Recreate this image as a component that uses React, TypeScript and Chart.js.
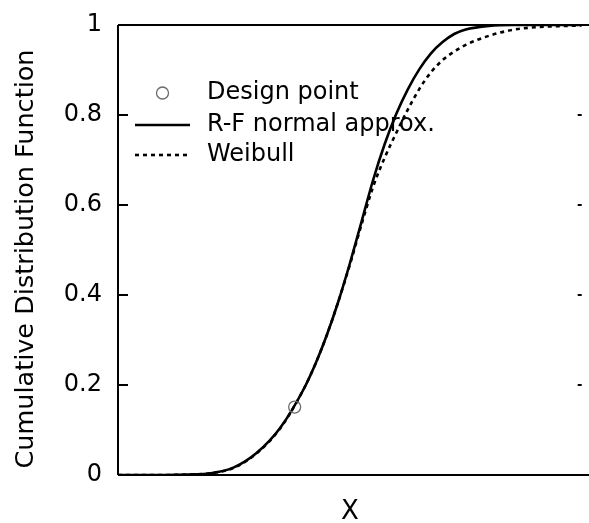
import React, { useEffect, useRef } from "react";
import { Chart, registerables } from "chart.js";

Chart.register(...registerables);

// ---- data ----
const xValues = [0, 1, 1.5, 2, 2.5, 3, 3.5, 4, 4.25, 4.5, 4.75, 5, 5.25, 5.5, 5.75, 6, 6.25, 6.5, 6.75, 7, 7.25, 7.5, 8, 8.5, 9, 10];
const normalCdf = [0, 0, 0.001, 0.004, 0.017, 0.05, 0.105, 0.19, 0.245, 0.31, 0.385, 0.47, 0.562, 0.655, 0.735, 0.802, 0.857, 0.902, 0.937, 0.962, 0.98, 0.99, 0.998, 1, 1, 1];
const weibullCdf = [0, 0, 0.001, 0.004, 0.016, 0.049, 0.104, 0.19, 0.245, 0.31, 0.385, 0.467, 0.556, 0.64, 0.705, 0.76, 0.812, 0.858, 0.895, 0.922, 0.941, 0.956, 0.976, 0.989, 0.995, 0.999];
const designX = [3.81];
const designY = [0.151];
const yTicks = [0, 0.2, 0.4, 0.6, 0.8, 1];
const yTickLabels = ["0", "0.2", "0.4", "0.6", "0.8", "1"];
const seriesLabels = ["Design point", "R-F normal approx.", "Weibull"];
const xTitle = "X";
const yTitle = "Cumulative Distribution Function";

const FONT = "'DejaVu Sans', sans-serif";

const framePlugin = {
  id: "frame",
  afterDraw(chart: any) {
    const { ctx, chartArea } = chart;
    const y = chart.scales.y;
    ctx.save();
    ctx.strokeStyle = "#000";
    ctx.lineWidth = 2;
    ctx.beginPath();
    ctx.moveTo(chartArea.left, chartArea.top);
    ctx.lineTo(chartArea.left, chartArea.bottom);
    ctx.moveTo(chartArea.left, chartArea.top);
    ctx.lineTo(chart.width, chartArea.top);
    ctx.moveTo(chartArea.left, chartArea.bottom);
    ctx.lineTo(chart.width, chartArea.bottom);
    yTicks.forEach((v) => {
      if (v === 0 || v === 1) return;
      const py = y.getPixelForValue(v);
      ctx.moveTo(chartArea.left, py);
      ctx.lineTo(chartArea.left + 10, py);
      ctx.moveTo(chartArea.right - 4, py);
      ctx.lineTo(chartArea.right, py);
    });
    ctx.stroke();

    // y-axis title
    ctx.translate(26, (chartArea.top + chartArea.bottom) / 2 + 9);
    ctx.rotate(-Math.PI / 2);
    ctx.fillStyle = "#000";
    ctx.font = `25.5px ${FONT}`;
    ctx.textAlign = "center";
    ctx.textBaseline = "middle";
    ctx.fillText(yTitle, 0, 0);
    ctx.restore();
  },
};

const legendPlugin = {
  id: "customLegend",
  afterDraw(chart: any) {
    const { ctx } = chart;
    const ds = chart.data.datasets;
    const rows = [93, 125, 155];
    const x0 = 135;
    const x1 = 190;
    const tx = 207;
    ctx.save();
    ctx.beginPath();
    ctx.strokeStyle = ds[0].borderColor;
    ctx.lineWidth = ds[0].borderWidth;
    ctx.arc((x0 + x1) / 2, rows[0], ds[0].pointRadius, 0, Math.PI * 2);
    ctx.stroke();
    ctx.beginPath();
    ctx.strokeStyle = ds[1].borderColor;
    ctx.lineWidth = ds[1].borderWidth;
    ctx.setLineDash(ds[1].borderDash || []);
    ctx.moveTo(x0, rows[1]);
    ctx.lineTo(x1, rows[1]);
    ctx.stroke();
    ctx.beginPath();
    ctx.strokeStyle = ds[2].borderColor;
    ctx.lineWidth = ds[2].borderWidth;
    ctx.setLineDash(ds[2].borderDash || []);
    ctx.moveTo(x0, rows[2]);
    ctx.lineTo(x1, rows[2]);
    ctx.stroke();
    ctx.setLineDash([]);
    ctx.fillStyle = "#000";
    ctx.font = `24px ${FONT}`;
    ctx.textBaseline = "middle";
    ctx.textAlign = "left";
    seriesLabels.forEach((t, i) => ctx.fillText(t, tx, rows[i]));
    ctx.restore();
  },
};

export default function App() {
  const canvasRef = useRef<HTMLCanvasElement | null>(null);

  useEffect(() => {
    if (!canvasRef.current) return;
    const chart = new Chart(canvasRef.current, {
      type: "scatter",
      data: {
        datasets: [
          {
            label: seriesLabels[0],
            data: designX.map((x, i) => ({ x, y: designY[i] })),
            showLine: false,
            pointStyle: "circle",
            pointRadius: 6,
            pointHoverRadius: 6,
            borderColor: "#6a6a6a",
            backgroundColor: "rgba(0,0,0,0)",
            borderWidth: 1.3,
            order: 0,
          } as any,
          {
            label: seriesLabels[1],
            data: xValues.map((x, i) => ({ x, y: normalCdf[i] })),
            showLine: true,
            pointRadius: 0,
            borderColor: "#000",
            borderWidth: 2.6,
            cubicInterpolationMode: "monotone",
            order: 1,
          } as any,
          {
            label: seriesLabels[2],
            data: xValues.map((x, i) => ({ x, y: weibullCdf[i] })),
            showLine: true,
            pointRadius: 0,
            borderColor: "#000",
            borderWidth: 2.6,
            borderDash: [4, 4],
            cubicInterpolationMode: "monotone",
            order: 2,
          } as any,
        ],
      },
      options: {
        animation: false,
        responsive: false,
        events: [],
        layout: { padding: { left: 0, top: 25, right: 0, bottom: 0 } },
        plugins: {
          legend: { display: false },
          tooltip: { enabled: false },
        },
        scales: {
          x: {
            type: "linear",
            min: 0,
            max: 10,
            grid: { display: false },
            border: { display: false },
            ticks: { display: false },
            title: {
              display: true,
              text: xTitle,
              color: "#000",
              font: { family: FONT, size: 26, lineHeight: 0.85 },
              padding: { top: 0, bottom: 0 },
            },
            afterFit: (s: any) => {
              s.height = 48;
              s.paddingLeft = 0;
              s.paddingRight = 0;
            },
          },
          y: {
            type: "linear",
            min: 0,
            max: 1,
            afterBuildTicks: (s: any) => {
              s.ticks = yTicks.map((v) => ({ value: v }));
            },
            grid: { display: false, drawTicks: false },
            border: { display: false },
            ticks: {
              color: "#000",
              padding: 16,
              font: { family: FONT, size: 24 },
              callback: (v: any) => {
                const i = yTicks.indexOf(Number(v));
                return i >= 0 ? yTickLabels[i] : "";
              },
            },
            title: { display: false },
            afterFit: (s: any) => {
              s.width = 118;
              s.paddingTop = 0;
              s.paddingBottom = 0;
            },
          },
        },
      } as any,
      plugins: [framePlugin, legendPlugin],
    });
    return () => chart.destroy();
  }, []);

  return (
    <div style={{ position: "fixed", left: 0, top: 0, width: 589, height: 523, background: "#fff" }}>
      <canvas ref={canvasRef} width={589} height={523} style={{ display: "block" }} />
    </div>
  );
}
